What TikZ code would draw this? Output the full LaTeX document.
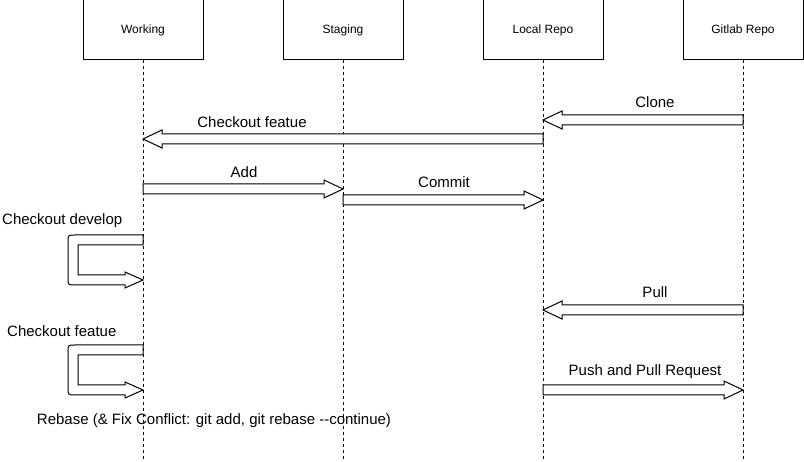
\documentclass[tikz,border=0pt]{standalone}
\usepackage{fontspec}
\setmainfont{Liberation Sans}
\usetikzlibrary{calc,positioning}

% horizontal block arrow, tip at the second coordinate
\newcommand{\blockarrow}[2]{%
  \draw[blockline] let \p1=(#1), \p2=(#2), \n1={sign(\x2-\x1)*19} in
    (\x1,\y1-5pt) -- (\x2-\n1,\y1-5pt) -- (\x2-\n1,\y1-9pt) -- (\x2,\y1)
    -- (\x2-\n1,\y1+9pt) -- (\x2-\n1,\y1+5pt) -- (\x1,\y1+5pt) -- cycle;}

% self message on the left of a lifeline
\newcommand{\selfloop}[2]{%
  \draw[blockline] let \p1=(#1), \p2=(#2) in
    (\x1,\y1+5pt) -- (\x1-68pt,\y1+5pt) .. controls (\x1-75pt,\y1+5pt) .. (\x1-75pt,\y1-2pt)
    -- (\x2-75pt,\y2+2pt) .. controls (\x2-75pt,\y2-5pt) .. (\x2-68pt,\y2-5pt)
    -- (\x2-18pt,\y2-5pt) -- (\x2-18pt,\y2-8pt) -- (\x2,\y2) -- (\x2-18pt,\y2+8pt)
    -- (\x2-18pt,\y2+5pt) -- (\x2-65pt,\y2+5pt) -- (\x2-65pt,\y1-5pt) -- (\x1,\y1-5pt) -- cycle;}

\begin{document}
\begin{tikzpicture}[
    x=1pt, y=-1pt,
    actor/.style={rectangle, draw, line width=1pt, minimum width=120pt, minimum height=60pt, inner sep=0pt, font=\fontsize{12}{14}\selectfont},
    lifeline/.style={line width=0.8pt, dash pattern=on 3pt off 3pt},
    blockline/.style={draw, fill=white, line width=1pt, line join=miter},
    msg/.style={inner sep=0pt, font=\fontsize{15}{17}\selectfont}
]
    \useasboundingbox (0,0) rectangle (804,462);

    % Actors
    \node[actor] (working) at (143,30) {Working};
    \node[actor] (staging) at (343,30) {Staging};
    \node[actor] (local) at (543,30) {Local Repo};
    \node[actor] (gitlab) at (743,30) {Gitlab Repo};

    % Lifelines
    \foreach \a in {working,staging,local,gitlab} {
        \coordinate (\a-end) at (\a |- 0,462);
        \draw[lifeline] (\a.south) -- (\a-end);
    }

    % Message ends
    \coordinate (clone-s) at (gitlab |- 0,120);
    \coordinate (clone-e) at (local |- 0,120);
    \coordinate (feat-s) at (local |- 0,139);
    \coordinate (feat-e) at (working |- 0,139);
    \coordinate (add-s) at (working |- 0,189);
    \coordinate (add-e) at (staging |- 0,189);
    \coordinate (commit-s) at (staging |- 0,200);
    \coordinate (commit-e) at (local |- 0,200);
    \coordinate (dev-s) at (working |- 0,240);
    \coordinate (dev-e) at (working |- 0,280);
    \coordinate (pull-s) at (gitlab |- 0,310);
    \coordinate (pull-e) at (local |- 0,310);
    \coordinate (feat2-s) at (working |- 0,350);
    \coordinate (feat2-e) at (working |- 0,390);
    \coordinate (push-s) at (local |- 0,390);
    \coordinate (push-e) at (gitlab |- 0,390);

    % Messages
    \blockarrow{clone-s}{clone-e}
    \blockarrow{feat-s}{feat-e}
    \blockarrow{add-s}{add-e}
    \blockarrow{commit-s}{commit-e}
    \selfloop{dev-s}{dev-e}
    \blockarrow{pull-s}{pull-e}
    \selfloop{feat2-s}{feat2-e}
    \blockarrow{push-s}{push-e}

    % Labels
    \node[msg] (clone-l) at (655,102) {Clone};
    \node[msg] (feat-l) at (252,122) {Checkout featue};
    \node[msg] (add-l) at (244,172) {Add};
    \node[msg] (commit-l) at (444,182) {Commit};
    \node[msg, anchor=west] (dev-l) at (2,221) {Checkout develop};
    \node[msg] (pull-l) at (655,292) {Pull};
    \node[msg, anchor=west] (feat2-l) at (7,331) {Checkout featue};
    \node[msg] (push-l) at (645,372) {Push and Pull Request};
    \node[msg] (rebase-l) at (214,421) {Rebase (\& Fix Conflict: git add, git rebase {-}{-}continue)};
\end{tikzpicture}
\end{document}
